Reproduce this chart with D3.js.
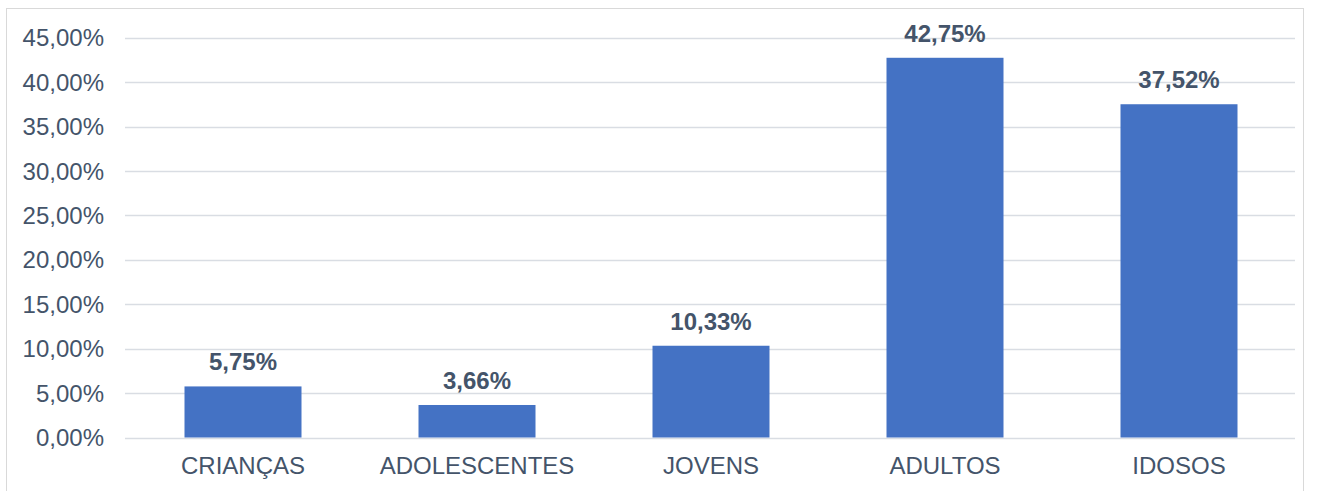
<!DOCTYPE html>
<html><head><meta charset="utf-8">
<script src="https://cdn.jsdelivr.net/npm/d3@7"></script>
<style>body{margin:0;background:#fff;}svg{display:block;font-family:"Liberation Sans",Arial,sans-serif;}</style>
</head><body>
<svg id="chart" width="1324" height="491"></svg>
<script>
const categories = ["CRIANÇAS","ADOLESCENTES","JOVENS","ADULTOS","IDOSOS"];
const values = [5.75, 3.66, 10.33, 42.75, 37.52];
const valueLabels = ["5,75%","3,66%","10,33%","42,75%","37,52%"];
const yTicks = [0,5,10,15,20,25,30,35,40,45];
const yTickLabels = ["0,00%","5,00%","10,00%","15,00%","20,00%","25,00%","30,00%","35,00%","40,00%","45,00%"];

const svg = d3.select("#chart");
const textColor = "#44546a";
// frame
svg.append("rect").attr("x",6.5).attr("y",8.5).attr("width",1297).attr("height",500)
  .attr("fill","none").attr("stroke","#d9d9d9").attr("stroke-width",1);

const x = d3.scaleBand().domain(categories).range([126,1296]).padding(0.5).paddingOuter(0.25);
const y = d3.scaleLinear().domain([0,45]).range([437.5,37.8]);

// gridlines
svg.append("g").selectAll("line").data(yTicks).join("line")
  .attr("x1",125).attr("x2",1295)
  .attr("y1",d=>Math.round(y(d))+0.5).attr("y2",d=>Math.round(y(d))+0.5)
  .attr("stroke","#d9dde3").attr("stroke-width",1.5);

// y tick labels
svg.append("g").selectAll("text").data(yTicks).join("text")
  .attr("x",104).attr("y",d=>y(d)+8.5)
  .attr("text-anchor","end").attr("font-size",24).attr("fill",textColor)
  .text((d,i)=>yTickLabels[i]);

// bars
svg.append("g").selectAll("rect").data(values).join("rect")
  .attr("x",(d,i)=>x(categories[i])).attr("width",x.bandwidth())
  .attr("y",d=>y(d)).attr("height",d=>y(0)-y(d))
  .attr("fill","#4472c4");

// value labels
svg.append("g").selectAll("text").data(values).join("text")
  .attr("x",(d,i)=>x(categories[i])+x.bandwidth()/2).attr("y",d=>y(d)-16)
  .attr("text-anchor","middle").attr("font-size",24).attr("font-weight","bold").attr("fill",textColor)
  .text((d,i)=>valueLabels[i]);

// category labels
svg.append("g").selectAll("text").data(categories).join("text")
  .attr("x",d=>x(d)+x.bandwidth()/2).attr("y",474)
  .attr("text-anchor","middle").attr("font-size",24).attr("fill",textColor)
  .text(d=>d);
</script>
</body></html>
